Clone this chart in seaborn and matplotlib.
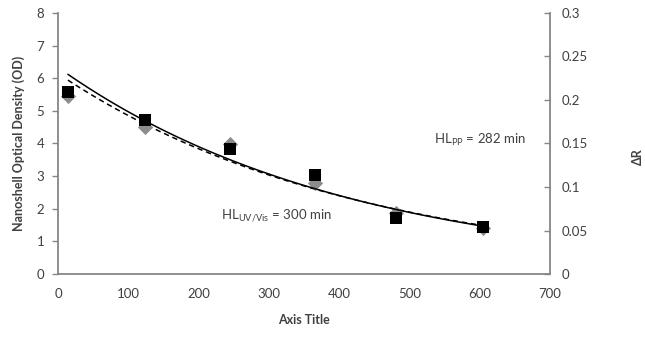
import numpy as np
import pandas as pd
import seaborn as sns
import matplotlib.pyplot as plt

# values
time_min = [14, 124, 245, 366, 481, 605]
od_nanoshell = [5.58, 4.72, 3.83, 3.04, 1.72, 1.44]        # left axis, black squares
delta_r = [0.204, 0.169, 0.149, 0.105, 0.070, 0.053]      # right axis, grey diamonds

sns.set_style("white")
plt.rcParams['font.family'] = ['Lato', 'DejaVu Sans']
plt.rcParams['mathtext.fontset'] = 'custom'
plt.rcParams['mathtext.rm'] = 'Lato'

AXIS_GREY = '#868686'
TEXT_GREY = '#404040'


def exp_trend(x, y):
    # Excel-style exponential trendline: linear fit of ln(y)
    slope, icpt = np.polyfit(x, np.log(y), 1)
    xs = np.linspace(min(x), max(x), 100)
    return xs, np.exp(icpt + slope * xs)


df_od = pd.DataFrame({"t": time_min, "v": od_nanoshell})
df_dr = pd.DataFrame({"t": time_min, "v": delta_r})

fig = plt.figure(figsize=(6.45, 3.4), dpi=100)
ax = fig.add_axes([0.090, 0.194, 0.763, 0.768])
ax2 = ax.twinx()

# right axis series (drawn first so squares sit on top)
xs, ys = exp_trend(time_min, delta_r)
sns.lineplot(x=xs, y=ys, ax=ax2, color='black', lw=1.1, linestyle=(0, (3.5, 2.5)))
sns.scatterplot(data=df_dr, x="t", y="v", ax=ax2, marker='D', s=60,
                color='#8c8c8c', edgecolor='#8c8c8c', linewidth=0, zorder=3)

# left axis series
xs, ys = exp_trend(time_min, od_nanoshell)
sns.lineplot(x=xs, y=ys, ax=ax, color='black', lw=1.1)
sns.scatterplot(data=df_od, x="t", y="v", ax=ax, marker='s', s=85,
                color='black', edgecolor='black', linewidth=0, zorder=4)

ax.set_zorder(ax2.get_zorder() + 1)
ax.patch.set_visible(False)

ax.set_xlim(0, 700)
ax.set_ylim(0, 8)
ax2.set_ylim(0, 0.3)
ax.set_xticks(range(0, 701, 100))
ax.set_yticks(range(0, 9))
ax2.set_yticks([0, 0.05, 0.1, 0.15, 0.2, 0.25, 0.3])
ax2.set_yticklabels(['0', '0.05', '0.1', '0.15', '0.2', '0.25', '0.3'])

for a in (ax, ax2):
    for side, sp in a.spines.items():
        sp.set_color(AXIS_GREY)
        sp.set_linewidth(1.3)
    a.spines['top'].set_visible(False)
    a.tick_params(colors=AXIS_GREY, labelcolor=TEXT_GREY, labelsize=9.5, width=1)

ax.spines['right'].set_visible(False)
ax2.spines['left'].set_visible(False)
ax2.spines['bottom'].set_visible(False)
ax.tick_params(axis='x', direction='in', length=4, pad=10)
ax.tick_params(axis='y', direction='out', length=4, pad=6)
ax2.tick_params(axis='y', direction='in', length=4, pad=8)

ax.set_xlabel('Axis Title', fontsize=9, fontweight='bold', color=TEXT_GREY, labelpad=10)
ax.set_ylabel('Nanoshell Optical Density (OD)', fontsize=9, fontweight='bold',
              color=TEXT_GREY, labelpad=8)
ax2.set_ylabel('ΔR', fontsize=9, fontweight='bold', color=TEXT_GREY, rotation=90,
               ha='center', va='center')
ax2.yaxis.set_label_coords(1.178, 0.45)

ax.text(311, 1.78, r'HL$_{\mathregular{UV/Vis}}$ = 300 min', fontsize=9.5,
        color=TEXT_GREY, ha='center', va='center')
ax.text(600, 4.1, r'HL$_{\mathregular{PP}}$ = 282 min', fontsize=9.5,
        color=TEXT_GREY, ha='center', va='center')

fig.savefig('out.png', dpi=100)
